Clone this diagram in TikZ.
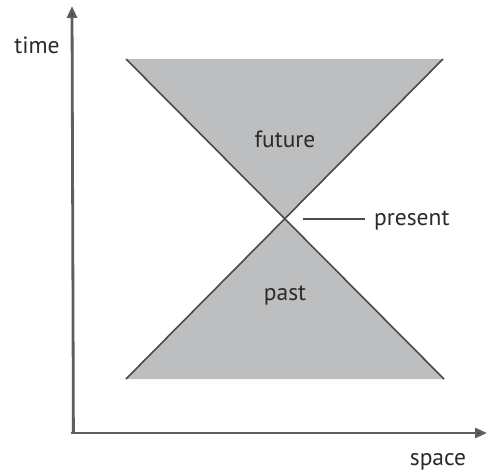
\documentclass[tikz,border=0pt]{standalone}
\usepackage{fontspec}
\setmainfont{PT Sans}
\usetikzlibrary{arrows.meta}
\definecolor{conefill}{HTML}{BDBEC0}
\definecolor{coneline}{HTML}{4A4A4A}
\definecolor{axiscol}{HTML}{5E5E5E}
\definecolor{txt}{HTML}{2A2A2A}
\tikzset{
  axis/.style={draw=axiscol,line width=2.8pt,-{Triangle[length=12pt,width=10pt,fill=black!85]}},
  cone/.style={fill=conefill,draw=none},
  edge/.style={draw=coneline,line width=1.6pt},
  lbl/.style={text=txt,font=\fontsize{23.5}{26}\selectfont,inner sep=0pt,anchor=base},
  lead/.style={draw=coneline,line width=1.6pt}
}
\begin{document}
\begin{tikzpicture}[x=1pt,y=-1pt]
\useasboundingbox (0,0) rectangle (488,472);
\coordinate (O) at (72,433);
\coordinate (T) at (72,6);
\coordinate (S) at (487,433);
\coordinate (A) at (285,219);
\coordinate (TL) at (126,59);
\coordinate (TR) at (443,59);
\coordinate (BL) at (126,379);
\coordinate (BR) at (444,379);
\fill[cone] (TL) -- (TR) -- (A) -- cycle;
\fill[cone] (BL) -- (BR) -- (A) -- cycle;
\draw[edge] (TL) -- (BR);
\draw[edge] (TR) -- (BL);
\draw[axis] ([xshift=1.4pt]O) -- (T);
\draw[axis] ([xshift=-1.4pt]O) -- (S);
\node[lbl] (time) at (37,53) {time};
\node[lbl] (space) at (438,465) {space};
\node[lbl] (future) at (285,147) {future};
\node[lbl] (past) at (285,300) {past};
\node[lbl,anchor=base west] (present) at (374,225) {present};
\coordinate (L1) at (303,219);
\draw[lead] (L1) -- (L1 -| 365,0);
\end{tikzpicture}
\end{document}
